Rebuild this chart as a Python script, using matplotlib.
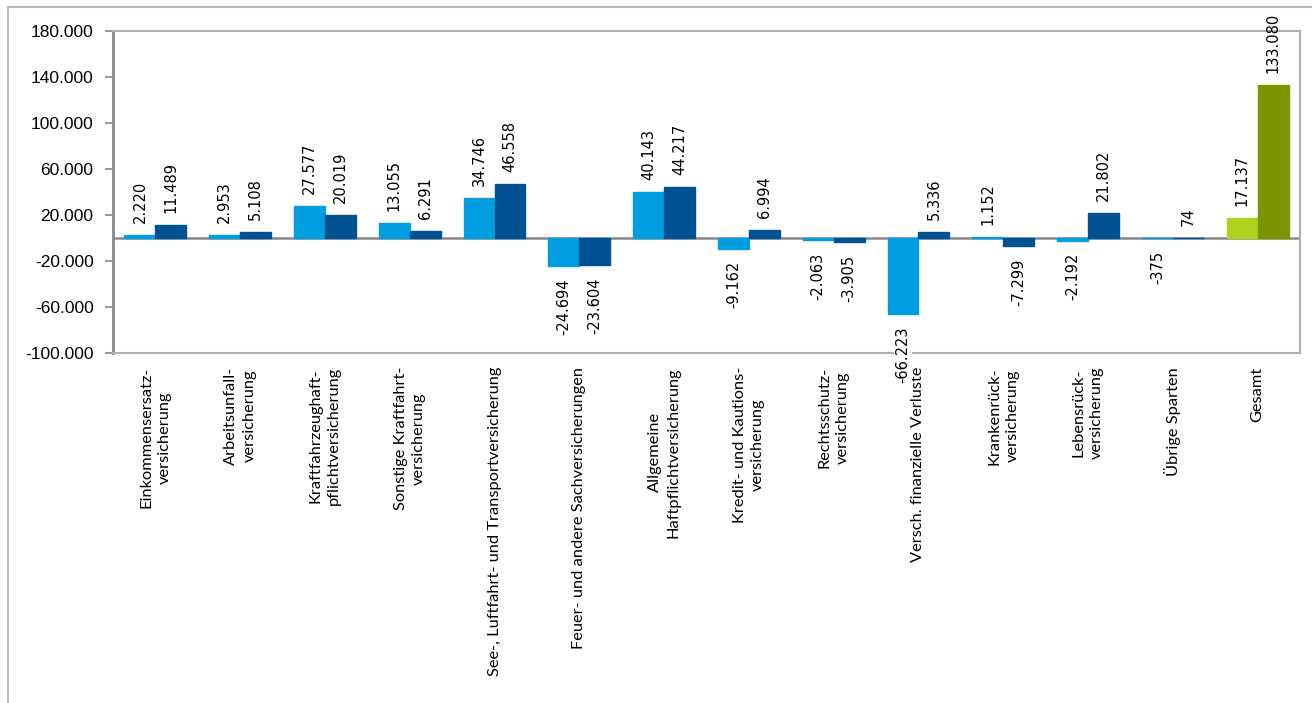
import numpy as np
import matplotlib
matplotlib.use("Agg")
import matplotlib.pyplot as plt
from matplotlib.patches import Rectangle
from matplotlib.ticker import FuncFormatter

categories = [
    "Einkommensersatz-\nversicherung",
    "Arbeitsunfall-\nversicherung",
    "Kraftfahrzeughaft-\npflichtversicherung",
    "Sonstige Kraftfahrt-\nversicherung",
    "See-, Luftfahrt- und Transportversicherung",
    "Feuer- und andere Sachversicherungen",
    "Allgemeine\nHaftpflichtversicherung",
    "Kredit- und Kautions-\nversicherung",
    "Rechtsschutz-\nversicherung",
    "Versch. finanzielle Verluste",
    "Krankenrück-\nversicherung",
    "Lebensrück-\nversicherung",
    "Übrige Sparten",
    "Gesamt",
]
series1 = [2220, 2953, 27577, 13055, 34746, -24694, 40143, -9162, -2063, -66223, 1152, -2192, -375, 17137]
series2 = [11489, 5108, 20019, 6291, 46558, -23604, 44217, 6994, -3905, 5336, -7299, 21802, 74, 133080]
yticks = [-100000, -60000, -20000, 20000, 60000, 100000, 140000, 180000]


def de_fmt(v, pos=None):
    return f"{v:,.0f}".replace(",", ".")


W, H = 1312, 703
fig = plt.figure(figsize=(W / 100, H / 100), dpi=100)
ax = fig.add_axes([113 / W, 1 - 353 / H, (1300 - 113) / W, (353 - 31) / H])

# outer chart frame
fig.patches.append(Rectangle((8 / W, -0.05), 1.2, (H - 7) / H + 0.05, transform=fig.transFigure,
                             fill=False, edgecolor="#b8b8b8", linewidth=1.5))

n = len(categories)
x = np.arange(n)
bw = 0.365
c1 = ["#009ee0"] * (n - 1) + ["#afd21e"]
c2 = ["#005293"] * (n - 1) + ["#7a9500"]

b1 = ax.bar(x - bw / 2, series1, bw, color=c1, edgecolor=c1, linewidth=1.0, zorder=2)
b2 = ax.bar(x + bw / 2, series2, bw, color=c2, edgecolor=c2, linewidth=1.0, zorder=2)

ax.axhline(0, color="#888888", linewidth=1.8, zorder=1.5)

for bars, vals in ((b1, series1), (b2, series2)):
    for rect, v in zip(bars, vals):
        xc = rect.get_x() + rect.get_width() / 2
        kw = {}
        if v == -66223:
            kw["bbox"] = dict(facecolor="white", edgecolor="none", pad=1)
        if v >= 0:
            ax.annotate(de_fmt(v), (xc, v), xytext=(0, 12), textcoords="offset pixels",
                        rotation=90, ha="center", va="bottom", fontsize=10.5,
                        family="DejaVu Sans", annotation_clip=False, zorder=5, **kw)
        else:
            ax.annotate(de_fmt(v), (xc, v), xytext=(0, -12), textcoords="offset pixels",
                        rotation=90, ha="center", va="top", fontsize=10.5,
                        family="DejaVu Sans", annotation_clip=False, zorder=5, **kw)

ax.set_xlim(-0.5, n - 0.5)
ax.set_ylim(-100000, 180000)
ax.set_yticks(yticks)
ax.yaxis.set_major_formatter(FuncFormatter(de_fmt))
for lab in ax.get_yticklabels():
    lab.set_family("Liberation Sans")
    lab.set_fontsize(12.5)
ax.tick_params(axis="y", direction="out", length=6, width=1.2, color="#888888", pad=8)

ax.set_xticks(x)
ax.set_xticklabels(categories, rotation=90, ha="center", va="top", multialignment="center",
                   family="Lato", fontsize=11.8, linespacing=1.4)
ax.tick_params(axis="x", length=0, pad=10)

for side in ("top", "right", "bottom"):
    ax.spines[side].set_color("#b0b0b0")
    ax.spines[side].set_linewidth(1.5)
ax.spines["left"].set_color("#888888")
ax.spines["left"].set_linewidth(2)

fig.savefig("out.png", dpi=100)
